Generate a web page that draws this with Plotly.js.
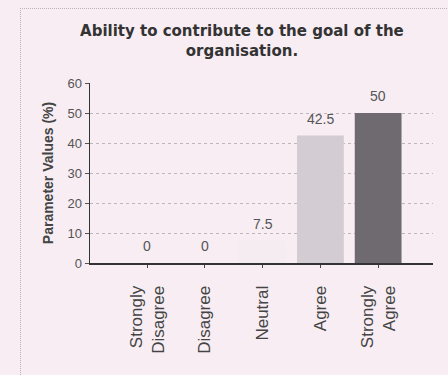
<!DOCTYPE html>
<html>
<head>
<meta charset="utf-8">
<script src="https://cdn.plot.ly/plotly-3.0.1.min.js"></script>
<style>
  html, body { margin: 0; padding: 0; background: #f7edf3; }
  #wrap { position: relative; width: 448px; height: 375px; overflow: hidden; }
  #frame {
    position: absolute; left: 20px; top: 8px; width: 440px; height: 380px;
    border-left: 1px dotted #b9b2b6; border-top: 1px dotted #b9b2b6;
    pointer-events: none;
  }
  #chart { position: absolute; left: 0; top: 0; width: 448px; height: 375px; }
</style>
</head>
<body>
<div id="wrap">
  <div id="chart"></div>
  <div id="frame"></div>
</div>
<script>
// Survey responses: ability to contribute to the organisation's goal
const categories = ["Strongly<br>Disagree", "Disagree", "Neutral", "Agree", "Strongly<br>Agree"];
const values = [0, 0, 7.5, 42.5, 50];
const barColors = ["#cfc8cd", "#cfc8cd", "#f5ecf2", "#d3ccd2", "#6f6a70"];
const yTicks = [0, 10, 20, 30, 40, 50, 60];

const xIdx = categories.map((_, i) => i);

const trace = {
  type: "bar",
  x: xIdx,
  y: values,
  width: 0.81,
  marker: { color: barColors, line: { width: 0 } },
  hoverinfo: "skip"
};

// value labels above each bar
const labels = values.map((v, i) => ({
  x: i, y: v, xref: "x", yref: "y",
  text: String(v), showarrow: false,
  yanchor: "bottom", yshift: 7,
  font: { family: "Liberation Sans, Arial, sans-serif", size: 14, color: "#555" }
}));

const layout = {
  width: 448, height: 375,
  paper_bgcolor: "#f7edf3",
  plot_bgcolor: "#f7edf3",
  margin: { l: 90, r: 15, t: 83, b: 112 },
  showlegend: false,
  title: {
    text: "Ability to contribute to the goal of the<br>organisation.",
    font: { family: "DejaVu Sans, Verdana, sans-serif", size: 15, color: "#333", weight: "bold" },
    x: 0.54, xanchor: "center", xref: "container",
    y: 1 - 36 / 375, yanchor: "top", yref: "container"
  },
  xaxis: {
    range: [-0.99, 4.95],
    tickvals: xIdx,
    ticktext: categories,
    tickangle: -90,
    ticks: "outside", ticklen: 3, tickcolor: "#444",
    ticklabelstandoff: 11,
    tickfont: { family: "Liberation Sans, Arial, sans-serif", size: 17, color: "#444" },
    showline: true, linecolor: "#333", linewidth: 2,
    showgrid: false, zeroline: false, fixedrange: true
  },
  yaxis: {
    range: [0, 60],
    tickvals: yTicks,
    ticks: "outside", ticklen: 4, tickcolor: "#555",
    tickfont: { family: "Liberation Sans, Arial, sans-serif", size: 13, color: "#555" },
    showline: true, linecolor: "#333", linewidth: 1.5,
    showgrid: true, gridcolor: "#bdb6bb", griddash: "dot", gridwidth: 1,
    zeroline: false, fixedrange: true,
    title: {
      text: "Parameter Values (%)",
      font: { family: "Liberation Sans, Arial, sans-serif", size: 14, color: "#444", weight: "bold" },
      standoff: 10
    }
  },
  annotations: labels
};

Plotly.newPlot("chart", [trace], layout, { staticPlot: true, displayModeBar: false });
</script>
</body>
</html>
